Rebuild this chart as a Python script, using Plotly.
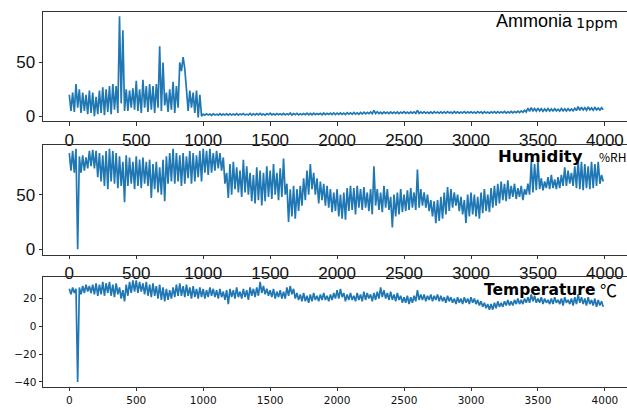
import plotly.graph_objects as go

# Readings per 25-unit bin: local high at the bin start, local low at mid-bin.
bin_width = 25

ammonia_hi = [
    20, 22, 30, 25, 22, 20, 24, 22,
    18, 24, 27, 25, 28, 30, 28, 93,
    80, 25, 24, 26, 33, 25, 34, 28,
    30, 28, 30, 65, 50, 22, 25, 32,
    28, 50, 55, 25, 24, 22, 24, 20,
    2.0, 2.2, 2.1, 2.3, 2.0, 2.4, 2.1, 2.2,
    2.3, 2.1, 2.5, 2.2, 2.4, 2.0, 2.6, 2.3,
    2.4, 2.6, 2.2, 2.5, 2.8, 2.3, 2.5, 2.4,
    2.6, 2.4, 3.0, 2.5, 2.7, 2.4, 2.6, 2.8,
    2.7, 2.9, 2.6, 2.8, 3.0, 2.7, 2.9, 3.1,
    3.0, 3.2, 2.9, 3.3, 3.1, 3.5, 3.2, 3.6,
    3.8, 3.6, 4.0, 5.5, 4.2, 3.9, 4.1, 3.8,
    4.0, 3.8, 4.1, 3.9, 4.2, 3.8, 4.0, 4.1,
    5.5, 4.0, 4.2, 3.9, 4.1, 4.3, 4.0, 4.2,
    4.1, 4.3, 4.0, 4.4, 4.2, 4.0, 4.3, 4.1,
    4.2, 4.0, 4.4, 4.1, 4.3, 4.0, 4.2, 4.4,
    4.3, 4.1, 4.5, 4.2, 4.6, 4.4, 4.8, 5.0,
    5.5, 7.5, 8.0, 7.2, 7.6, 7.0, 6.8, 7.2,
    6.8, 7.0, 6.6, 7.2, 6.9, 7.1, 6.8, 7.4,
    9.0, 8.5, 8.0, 8.6, 7.8, 8.2, 7.6, 8.0,
]
ammonia_lo = [
    5, 4, 8, 3, 5, 2, 3, 0,
    2, 3, 1, 4, 2, 6, 3, 12,
    5, 5, 8, 6, 5, 3, 8, 4,
    6, 3, 8, 5, 10, 4, 6, 3,
    8, 42, 44, 5, 8, 3, -1, 0,
    1.0, 1.1, 0.9, 1.2, 1.0, 1.1, 1.2, 1.0,
    1.1, 1.2, 1.0, 1.3, 1.1, 1.2, 1.0, 1.3,
    1.2, 1.3, 1.1, 1.4, 1.2, 1.3, 1.4, 1.2,
    1.3, 1.4, 1.2, 1.5, 1.3, 1.4, 1.5, 1.3,
    1.4, 1.5, 1.6, 1.4, 1.5, 1.7, 1.5, 1.6,
    1.7, 1.8, 1.6, 1.9, 1.8, 2.0, 1.9, 2.1,
    2.2, 2.4, 2.3, 2.6, 2.5, 2.4, 2.6, 2.5,
    2.6, 2.7, 2.5, 2.8, 2.6, 2.7, 2.8, 2.6,
    2.7, 2.8, 2.9, 2.7, 2.8, 3.0, 2.8, 2.9,
    2.9, 3.0, 2.8, 3.0, 2.9, 3.1, 2.9, 3.0,
    3.0, 2.9, 3.1, 2.8, 3.0, 2.9, 3.1, 3.0,
    3.0, 3.1, 2.9, 3.2, 3.1, 3.3, 3.4, 3.6,
    4.0, 4.6, 5.0, 4.8, 5.0, 4.7, 4.9, 4.8,
    4.9, 5.0, 4.8, 5.1, 4.9, 5.2, 5.0, 5.3,
    5.5, 5.8, 5.6, 6.0, 5.7, 6.0, 5.8, 6.0,
]
humidity_hi = [
    88, 90, 92, 85, 86, 84, 90, 91,
    90, 88, 86, 90, 92, 90, 88, 85,
    80, 86, 84, 80, 85, 82, 84, 80,
    82, 78, 80, 75, 82, 85, 88, 92,
    88, 86, 88, 85, 90, 88, 86, 90,
    92, 90, 92, 88, 90, 88, 84, 70,
    78, 80, 75, 72, 82, 76, 70, 68,
    75, 72, 70, 76, 72, 78, 70, 74,
    83, 60, 55, 58, 55, 58, 65, 72,
    78, 70, 65, 62, 60, 58, 55, 52,
    55, 50, 52, 56, 58, 56, 58, 55,
    57, 52, 55, 76, 55, 52, 58, 55,
    48, 50, 52, 55, 50, 54, 56, 52,
    73, 55, 52, 50, 45, 44, 45, 48,
    52, 57, 55, 52, 50, 48, 45, 50,
    52, 50, 48, 52, 55, 50, 56, 58,
    60, 62, 60, 63, 58, 60, 56, 58,
    55, 60, 80, 78, 80, 65, 62, 66,
    68, 64, 66, 68, 75, 72, 70, 76,
    82, 80, 78, 76, 80, 78, 80, 68,
]
humidity_lo = [
    72, 70, 0, 70, 72, 74, 76, 74,
    66, 62, 58, 55, 62, 60, 56, 58,
    43, 58, 60, 55, 58, 56, 60, 58,
    47, 55, 52, 50, 44, 60, 62, 60,
    62, 58, 60, 65, 60, 62, 66, 62,
    70, 68, 70, 72, 74, 72, 60, 47,
    50, 55, 52, 48, 52, 50, 44, 42,
    45, 40, 44, 48, 46, 50, 45, 48,
    50, 25, 30, 28, 35, 40, 45, 50,
    55, 50, 42, 45, 40, 38, 34, 35,
    30, 28, 27, 35, 36, 32, 38, 36,
    38, 35, 32, 40, 36, 34, 38, 36,
    20, 30, 32, 34, 35, 36, 38, 36,
    38, 40, 38, 35, 30, 24, 26, 28,
    32, 35, 38, 40, 35, 32, 24, 30,
    32, 30, 28, 33, 35, 34, 38, 40,
    42, 45, 44, 46, 48, 46, 48, 45,
    50, 50, 52, 54, 55, 54, 56, 55,
    56, 55, 56, 58, 58, 60, 58, 56,
    55, 54, 56, 55, 56, 58, 60, 62,
]
temperature_hi = [
    27, 28, 27, 28, 29, 30, 29, 30,
    31, 30, 32, 31, 32, 30, 31, 28,
    26, 30, 32, 33, 33, 32, 31, 32,
    30, 31, 29, 30, 28, 27, 26, 28,
    30, 31, 29, 30, 28, 29, 27, 28,
    27, 26, 28, 27, 26, 27, 25, 26,
    27, 26, 28, 25, 27, 26, 28, 27,
    28, 32, 29, 27, 26, 27, 25, 26,
    25, 28, 29, 27, 24, 23, 24, 22,
    23, 24, 22, 23, 24, 22, 23, 24,
    26, 27, 24, 23, 24, 22, 24, 23,
    25, 24, 23, 24, 25, 28, 26, 24,
    25, 23, 24, 22, 21, 22, 21, 22,
    26, 23, 23, 22, 23, 22, 23, 22,
    21, 22, 21, 20, 21, 20, 21, 20,
    21, 20, 19, 18, 17, 16, 16, 17,
    18, 17, 18, 19, 18, 19, 20, 19,
    20, 21, 23, 22, 20, 21, 20, 19,
    20, 21, 19, 20, 21, 19, 20, 21,
    23, 21, 20, 21, 19, 20, 19, 18,
]
temperature_lo = [
    23, 24, -40, 23, 24, 25, 24, 23,
    22, 23, 22, 24, 22, 21, 23, 20,
    18, 22, 24, 25, 24, 25, 23, 22,
    21, 22, 20, 19, 18, 19, 20, 21,
    22, 22, 21, 22, 20, 21, 20, 21,
    20, 21, 22, 21, 20, 21, 19, 16,
    21, 20, 21, 20, 21, 19, 22, 21,
    22, 24, 23, 22, 21, 20, 21, 20,
    20, 22, 23, 20, 19, 18, 18, 17,
    18, 19, 18, 19, 19, 18, 19, 20,
    20, 21, 18, 19, 19, 18, 19, 18,
    19, 20, 18, 19, 20, 21, 20, 19,
    19, 18, 19, 17, 17, 16, 17, 18,
    19, 19, 18, 19, 18, 19, 18, 18,
    17, 18, 17, 16, 17, 16, 17, 16,
    17, 16, 15, 14, 13, 12, 12, 13,
    14, 14, 15, 15, 15, 16, 16, 16,
    17, 17, 18, 17, 17, 16, 17, 16,
    16, 17, 16, 15, 17, 16, 15, 16,
    17, 16, 15, 16, 15, 14, 15, 14,
]
x_ticks = [0, 500, 1000, 1500, 2000, 2500, 3000, 3500, 4000]
y1_ticks = [0, 50]
y2_ticks = [0, 50]
y3_ticks = [-40, -20, 0, 20]


def series(hi, lo):
    xs, ys = [], []
    for i, (h, l) in enumerate(zip(hi, lo)):
        xs += [i * bin_width, i * bin_width + bin_width / 2]
        ys += [h, l]
    return xs, ys


W, H = 627, 410
color = "#1f77b4"
axcol = "#333333"

fig = go.Figure()
for k, (hi, lo) in enumerate([(ammonia_hi, ammonia_lo), (humidity_hi, humidity_lo),
                              (temperature_hi, temperature_lo)]):
    xs, ys = series(hi, lo)
    sfx = "" if k == 0 else str(k + 1)
    fig.add_trace(go.Scatter(x=xs, y=ys, mode="lines", line=dict(color=color, width=1.7),
                             xaxis="x" + sfx, yaxis="y" + sfx, hoverinfo="skip"))

xdom = [43 / W, 1.0]


def ydom(top, bottom):
    return [1 - bottom / H, 1 - top / H]


xrange_ = [-196.4, 4165]
big = dict(family="Liberation Sans, Arial, sans-serif", size=17, color="#111")
small = dict(family="DejaVu Sans, sans-serif", size=10.5, color="#111")


def xax(anchor, font):
    return dict(domain=xdom, range=xrange_, anchor=anchor, showline=True, linecolor=axcol,
                linewidth=1, mirror=True, ticks="outside", ticklen=3.5, tickcolor=axcol,
                tickvals=x_ticks, tickfont=font, showgrid=False, zeroline=False)


def yax(anchor, dom, rng, vals, font):
    return dict(domain=dom, range=rng, anchor=anchor, showline=True, linecolor=axcol,
                linewidth=1, ticks="outside", ticklen=3.5, tickcolor=axcol,
                tickvals=vals, tickfont=font, showgrid=False, zeroline=False)


fig.update_layout(
    width=W, height=H, margin=dict(l=0, r=0, t=0, b=0),
    paper_bgcolor="white", plot_bgcolor="white", showlegend=False,
    xaxis=xax("y", big),
    yaxis=yax("x", ydom(11.7, 122.7), [-4.6, 97.4], y1_ticks, big),
    xaxis2=xax("y2", big),
    yaxis2=yax("x2", ydom(146.7, 257.7), [-4.8, 95.5], y2_ticks, big),
    xaxis3=xax("y3", small),
    yaxis3=yax("x3", ydom(280, 391.7), [-43.6, 35.8], y3_ticks, small),
)


def ann(text, xpx, ypx, font):
    fig.add_annotation(text=text, x=xpx / W, y=1 - ypx / H, xref="paper", yref="paper",
                       xanchor="left", yanchor="middle", showarrow=False, font=font,
                       borderpad=0)


ann("Ammonia", 495, 21.5, dict(family="Liberation Sans, Arial", size=18, color="#000"))
ann("1ppm", 575, 23, dict(family="DejaVu Sans", size=14.5, color="#000"))
ann("<b>Humidity</b>", 497, 158, dict(family="DejaVu Sans", size=16.5, color="#000"))
ann("%RH", 598, 158, dict(family="Noto Sans CJK SC", size=12, color="#000"))
ann("<b>Temperature</b>", 483, 294, dict(family="DejaVu Sans", size=15.5, color="#000"))
ann("℃", 599, 293.5, dict(family="Noto Sans CJK SC", size=17, color="#000"))

fig.write_html("out.html")
